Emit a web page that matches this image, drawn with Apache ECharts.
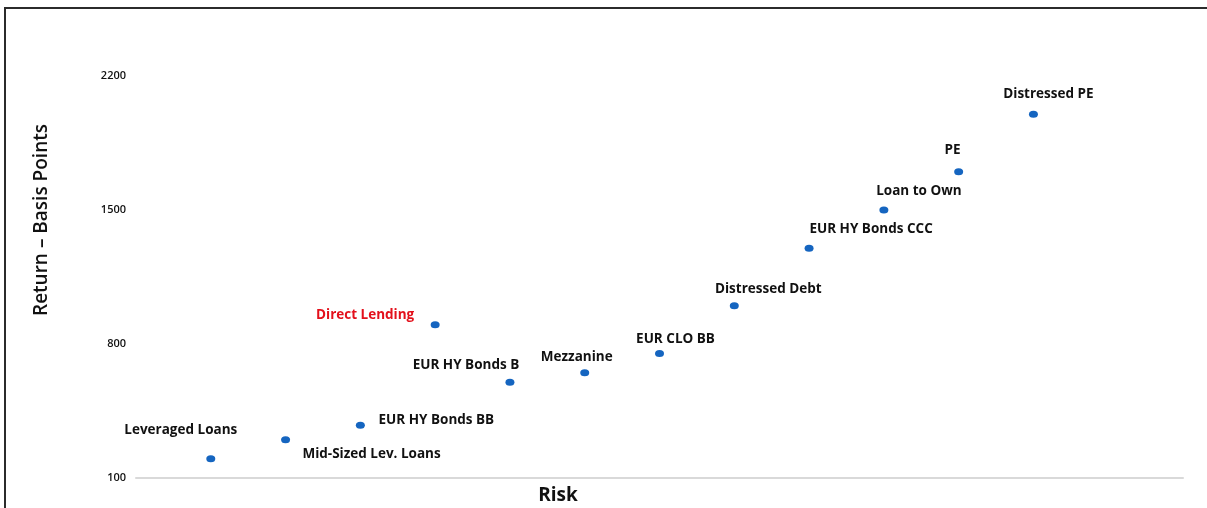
<!DOCTYPE html>
<html>
<head>
<meta charset="utf-8">
<script src="https://cdn.jsdelivr.net/npm/echarts@6/dist/echarts.min.js"></script>
<style>
  html, body { margin: 0; padding: 0; background: #ffffff; }
  #chart { width: 1207px; height: 508px; }
</style>
</head>
<body>
<div id="chart"></div>
<script>
// Asset classes ordered by risk, with their expected return in basis points
const assets = [
  'Leveraged Loans',
  'Mid-Sized Lev. Loans',
  'EUR HY Bonds BB',
  'Direct Lending',
  'EUR HY Bonds B',
  'Mezzanine',
  'EUR CLO BB',
  'Distressed Debt',
  'EUR HY Bonds CCC',
  'Loan to Own',
  'PE',
  'Distressed PE'
];
const riskRank = [1, 2, 3, 4, 5, 6, 7, 8, 9, 10, 11, 12];
const returnBps = [200, 300, 375, 900, 600, 650, 750, 1000, 1300, 1500, 1700, 2000];
const yTicks = [100, 800, 1500, 2200];
const highlighted = 'Direct Lending';

// Where each label sits relative to its dot (pixels, label centre minus dot centre)
const labelOffsets = [
  [-30, -29], [86, 14], [76, -5], [-70, -10], [-44, -17], [-8, -16],
  [16, -14], [34, -17], [62, -19], [35, -19], [-6, -22], [15, -20]
];

const FONT = '"Open Sans", "Liberation Sans", sans-serif';
const DOT = '#1565c0';
const TEXT = '#111111';
const RED = '#e3101b';

const chart = echarts.init(document.getElementById('chart'), null, { renderer: 'canvas' });

const points = assets.map((name, i) => ({
  name: name,
  value: [riskRank[i], returnBps[i]],
  label: {
    offset: labelOffsets[i],
    color: name === highlighted ? RED : TEXT
  }
}));

chart.setOption({
  animation: false,
  backgroundColor: '#ffffff',
  grid: { left: 136, right: 24, top: 76, bottom: 30, containLabel: false },
  xAxis: {
    type: 'value',
    min: 0,
    max: 14,
    axisLine: { show: true, lineStyle: { color: '#d9d9d9', width: 2 } },
    axisTick: { show: false },
    axisLabel: { show: false },
    splitLine: { show: false }
  },
  yAxis: {
    type: 'value',
    min: 100,
    max: 2200,
    axisLine: { show: false },
    axisTick: { show: false },
    splitLine: { show: false },
    axisLabel: {
      customValues: yTicks,
      formatter: v => String(v),
      margin: 10,
      color: '#111111',
      fontFamily: FONT,
      fontWeight: 600,
      fontSize: 11
    }
  },
  series: [{
    type: 'scatter',
    symbol: 'circle',
    symbolSize: [9, 7],
    itemStyle: { color: DOT, opacity: 1 },
    label: {
      show: true,
      position: 'inside',
      align: 'center',
      verticalAlign: 'middle',
      formatter: p => p.name,
      fontFamily: FONT,
      fontWeight: 'bold',
      fontSize: 13.5,
      opacity: 1,
      textBorderWidth: 0
    },
    emphasis: { disabled: true },
    data: points
  }],
  graphic: [
    {
      type: 'rect',
      silent: true,
      shape: { x: 5, y: 8, width: 1400, height: 700 },
      style: { fill: 'none', stroke: '#2b2b2b', lineWidth: 2 }
    },
    {
      type: 'text',
      silent: true,
      x: 42,
      y: 220,
      rotation: Math.PI / 2,
      style: {
        text: 'Return – Basis Points',
        fill: TEXT,
        font: '600 19px ' + FONT,
        align: 'center',
        verticalAlign: 'middle'
      }
    },
    {
      type: 'text',
      silent: true,
      x: 558,
      y: 496,
      style: {
        text: 'Risk',
        fill: TEXT,
        font: 'bold 19px ' + FONT,
        align: 'center',
        verticalAlign: 'middle'
      }
    }
  ]
});
</script>
</body>
</html>
